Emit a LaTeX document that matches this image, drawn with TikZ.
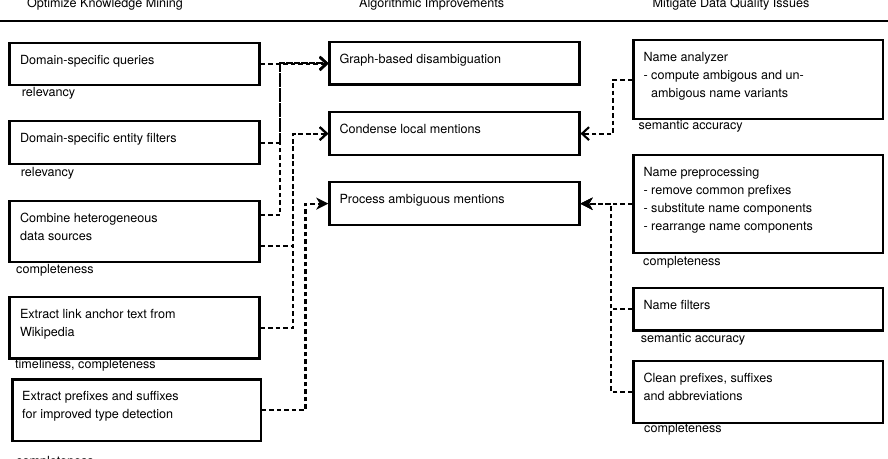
\documentclass[tikz,border=0pt]{standalone}
\usepackage{fontspec}
\setmainfont{TeX Gyre Heros}
\usetikzlibrary{arrows.meta}
\begin{document}
\begin{tikzpicture}[x=1pt,y=-1pt,
  every node/.style={font=\fontsize{12.6}{18}\selectfont, inner sep=0pt},
  box/.style={draw, line width=2.2pt, anchor=north west, minimum width=250pt},
  txt/.style={anchor=north west, align=left},
  lab/.style={anchor=base west},
  head/.style={anchor=base},
  conn/.style={line width=2.1pt, dash pattern=on 4.5pt off 3pt},
  openarr/.style={conn, -{Straight Barb[length=7pt,width=13pt]}},
  fillarr/.style={conn, -{Stealth[length=12pt,width=12pt,inset=3.5pt]}}]
\clip (0,0) rectangle (888,458);
\fill[white] (0,0) rectangle (888,458);

% headers
\node[head] (h1) at (105,7.3) {Optimize Knowledge Mining};
\node[head] (h2) at (431.7,7.3) {Algorithmic Improvements};
\node[head] (h3) at (731,7.3) {Mitigate Data Quality Issues};
\coordinate (hl) at (0,20.7);
\coordinate (hr) at (888,20.7);
\draw[line width=2.4pt] (hl) -- (hr);

% left boxes
\node[box, minimum height=42.3pt] (l1) at (8.3,41.7) {};
\node[box, minimum height=43pt] (l2) at (8.3,120) {};
\node[box, minimum height=61pt] (l3) at (8.3,200) {};
\node[box, minimum height=61.3pt] (l4) at (8.3,296) {};
\node[box, minimum height=61.7pt, minimum width=248.4pt] (l5) at (11.3,378.3) {};
\node[txt] (l1t) at ([shift={(11.5,10)}]l1.north west) {\strut Domain-specific queries};
\node[txt] (l2t) at ([shift={(11.5,10)}]l2.north west) {\strut Domain-specific entity filters};
\node[txt] (l3t) at ([shift={(11.5,10)}]l3.north west) {\strut Combine heterogeneous\\data sources};
\node[txt] (l4t) at ([shift={(11.5,10)}]l4.north west) {\strut Extract link anchor text from\\Wikipedia};
\node[txt] (l5t) at ([shift={(10.7,9.3)}]l5.north west) {\strut Extract prefixes and suffixes\\for improved type detection};
\node[lab] (l1q) at (21.7,96.5) {relevancy};
\node[lab] (l2q) at (20.7,176.5) {relevancy};
\node[lab] (l3q) at (16,273.3) {completeness};
\node[lab] (l4q) at (15,368.3) {timeliness, completeness};
\node[lab] (l5q) at (16,465.5) {completeness};

% middle boxes
\node[box, minimum height=42.6pt] (m1) at (328.3,40.7) {};
\node[box, minimum height=43pt] (m2) at (328.3,111) {};
\node[box, minimum height=43pt] (m3) at (328.3,181) {};
\node[txt] (m1t) at ([shift={(11,10)}]m1.north west) {\strut Graph-based disambiguation};
\node[txt] (m2t) at ([shift={(11,10)}]m2.north west) {\strut Condense local mentions};
\node[txt] (m3t) at ([shift={(11,10)}]m3.north west) {\strut Process ambiguous mentions};

% right boxes
\node[box, minimum height=79pt, minimum width=249.4pt] (r1) at (632.3,39) {};
\node[box, minimum height=97.7pt, minimum width=249.4pt] (r2) at (632.3,154) {};
\node[box, minimum height=42.6pt, minimum width=249.4pt] (r3) at (632.3,286.7) {};
\node[box, minimum height=61.7pt, minimum width=249.4pt] (r4) at (632.3,360) {};
\node[txt] (r1t) at ([shift={(11,10)}]r1.north west) {\strut Name analyzer\\- compute ambigous and un-\\\hphantom{- }ambigous name variants};
\node[txt] (r2t) at ([shift={(11,10)}]r2.north west) {\strut Name preprocessing\\- remove common prefixes\\- substitute name components\\- rearrange name components};
\node[txt] (r3t) at ([shift={(11,10)}]r3.north west) {\strut Name filters};
\node[txt] (r4t) at ([shift={(11,10)}]r4.north west) {\strut Clean prefixes, suffixes\\and abbreviations};
\node[lab] (r1q) at (638.3,129.7) {semantic accuracy};
\node[lab] (r2q) at (643,265) {completeness};
\node[lab] (r3q) at (640.7,342.3) {semantic accuracy};
\node[lab] (r4q) at (644,432.7) {completeness};

% trunk coordinates
\coordinate (ta) at (280,0);
\coordinate (tb) at (293.3,0);
\coordinate (tc) at (305.5,0);
\coordinate (td) at (613.3,0);
\coordinate (te) at (610.8,0);

% left connectors
\draw[openarr] (l1.east) -- (l1.east -| m1.west);
\draw[openarr] (l2.east) -- (l2.east -| ta) |- (m1.west);
\coordinate (l3a) at ([yshift=16.2pt]l3.east);
\coordinate (l3b) at ([yshift=-14.5pt]l3.east);
\draw[openarr] (l3a) -- (l3a -| ta) |- (m1.west);
\draw[openarr] (l3b) -- (l3b -| tb) |- (m2.west);
\draw[openarr] (l4.east) -- (l4.east -| tb) |- (m2.west);
\draw[fillarr] (l5.east) -- (l5.east -| tc) |- (m3.west);

% right connectors
\draw[openarr] (r1.west) -- (r1.west -| td) |- (m2.east);
\draw[fillarr] (r2.west) -- (r2.west -| m3.east);
\draw[fillarr] (r3.west) -- (r3.west -| te) |- (m3.east);
\draw[fillarr] (r4.west) -- (r4.west -| te) |- (m3.east);
\end{tikzpicture}
\end{document}
